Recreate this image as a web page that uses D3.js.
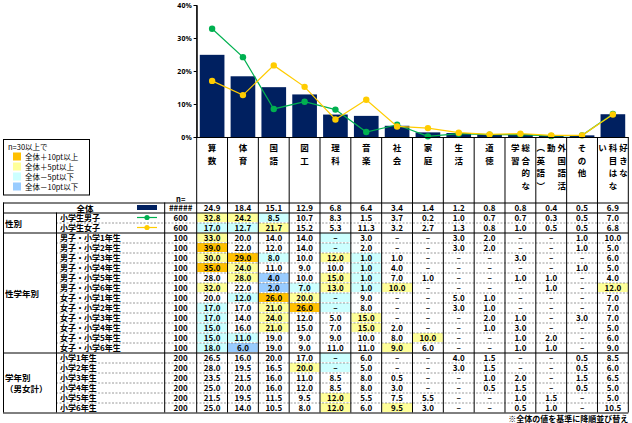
<!DOCTYPE html>
<html><head><meta charset="utf-8">
<script src="https://cdn.jsdelivr.net/npm/d3@7"></script>
<style>
body{margin:0;background:#fff}
svg{display:block}
text{font-family:"Noto Sans CJK JP","Noto Sans",sans-serif;fill:#000}
</style>
</head><body>
<svg id="c" width="632" height="423"></svg>
<script>
// ---------- data ----------
const categories = ["算数","体育","国語","図工","理科","音楽","社会","家庭","生活","道徳","総合的な学習","外国語活動（英語）","その他","好きな科目はない"];
const categoryLabelColumns = [["算数"],["体育"],["国語"],["図工"],["理科"],["音楽"],["社会"],["家庭"],["生活"],["道徳"],["総合的な","学習"],["外国語活","動","︵英語︶"],["その他"],["好きな","科目はな","い"]];
const yTicks = [0,10,20,30,40];

const totalValues = [24.9,18.4,15.1,12.9,6.8,6.4,3.4,1.4,1.2,0.8,0.8,0.4,0.5,6.9];
const boyValues   = [32.8,24.2,8.5,10.7,8.3,1.5,3.7,0.2,1.0,0.7,0.7,0.3,0.5,7.0];
const girlValues  = [17.0,12.7,21.7,15.2,5.3,11.3,3.2,2.7,1.3,0.8,1.0,0.5,0.5,6.8];

const boy1 = [33,20,14,14,null,3,null,null,3,2,null,null,1,10];
const boy2 = [39,22,12,14,null,2,null,null,3,2,null,null,1,5];
const boy3 = [30,29,8,10,12,1,1,null,null,null,3,null,null,6];
const boy4 = [35,24,11,9,10,1,4,null,null,null,null,null,1,5];
const boy5 = [28,28,4,10,15,1,7,1,null,null,1,1,null,4];
const boy6 = [32,22,2,7,13,1,10,null,null,null,null,1,null,12];
const girl1 = [20,12,26,20,null,9,null,null,5,1,null,null,null,7];
const girl2 = [17,17,21,26,null,8,null,null,3,1,null,null,null,7];
const girl3 = [17,14,24,12,5,15,null,null,null,2,1,null,3,7];
const girl4 = [15,16,21,15,7,15,2,null,null,1,3,null,null,5];
const girl5 = [15,11,19,9,9,10,8,10,null,null,1,2,null,6];
const girl6 = [18,6,19,9,11,11,9,6,null,null,1,1,null,9];
const grade1 = [26.5,16,20,17,null,6,null,null,4,1.5,null,null,0.5,8.5];
const grade2 = [28,19.5,16.5,20,null,5,null,null,3,1.5,null,null,0.5,6];
const grade3 = [23.5,21.5,16,11,8.5,8,0.5,null,null,1,2,null,1.5,6.5];
const grade4 = [25,20,16,12,8.5,8,3,null,null,0.5,1.5,null,0.5,5];
const grade5 = [21.5,19.5,11.5,9.5,12,5.5,7.5,5.5,null,null,1,1.5,null,5];
const grade6 = [25,14,10.5,8,12,6,9.5,3,null,null,0.5,1,null,10.5];

const rowLabels = ["全体","小学生男子","小学生女子",
  "男子・小学1年生","男子・小学2年生","男子・小学3年生","男子・小学4年生","男子・小学5年生","男子・小学6年生",
  "女子・小学1年生","女子・小学2年生","女子・小学3年生","女子・小学4年生","女子・小学5年生","女子・小学6年生",
  "小学1年生","小学2年生","小学3年生","小学4年生","小学5年生","小学6年生"];
const rowN = ["#####","600","600","100","100","100","100","100","100","100","100","100","100","100","100","200","200","200","200","200","200"];
const rowValues = [totalValues,boyValues,girlValues,boy1,boy2,boy3,boy4,boy5,boy6,girl1,girl2,girl3,girl4,girl5,girl6,grade1,grade2,grade3,grade4,grade5,grade6];
const groupLabels = [["性別"],["性学年別"],["学年別","（男女計）"]];
const groupRanges = [[1,3],[3,15],[15,21]];
const legendTitle = "n=30以上で";
const legendItems = ["全体＋10pt以上","全体＋5pt以上","全体－5pt以下","全体－10pt以下"];
const footnote = "※全体の値を基準に降順並び替え";

// ---------- styles ----------
const NAVY="#002060", GREEN="#00B050", YELLOW="#FFCC00";
const HL = ["#FFC000","#FFFF99","#CCFFFF","#99CCFF"];
function hl(v,base){
  const d=(v==null?0:v)-base;
  if(d>=10) return HL[0];
  if(d>=5) return HL[1];
  if(d<=-10) return HL[3];
  if(d<=-5) return HL[2];
  return null;
}

const svg=d3.select("#c");
const X0=196.7, X1=628.3, PT=5, PB=137;
const x=d3.scaleBand().domain(categories).range([X0,X1]).padding(0);
const y=d3.scaleLinear().domain([0,40]).range([PB,PT]);
const T0=202.5, RH=10;
const ry=d3.scaleBand().domain(d3.range(rowLabels.length)).range([T0,T0+RH*rowLabels.length]).padding(0);
const T1=T0+RH*rowLabels.length;
const fmt=d3.format(".1f");

// ---------- chart ----------
const bw=x.bandwidth()*0.8;
svg.append("g").selectAll("rect").data(categories).join("rect")
  .attr("x",(d)=>x(d)+(x.bandwidth()-bw)/2).attr("width",bw)
  .attr("y",(d,i)=>y(totalValues[i])).attr("height",(d,i)=>PB-y(totalValues[i]))
  .attr("fill",NAVY);

const cx=d=>x(d)+x.bandwidth()/2;
[[boyValues,GREEN],[girlValues,YELLOW]].forEach(([vals,col])=>{
  const pts=categories.map((c,i)=>[cx(c),y(vals[i])]);
  svg.append("path").attr("d",d3.line()(pts)).attr("fill","none").attr("stroke",col).attr("stroke-width",1.2);
  svg.append("g").selectAll("circle").data(pts).join("circle")
    .attr("cx",d=>d[0]).attr("cy",d=>d[1]).attr("r",3.2).attr("fill",col);
});

const ax=svg.append("g").attr("transform",`translate(${X0},0)`)
  .call(d3.axisLeft(y).tickValues(yTicks).tickFormat(d=>d+"%").tickSize(3).tickPadding(2));
ax.select(".domain").attr("stroke","#000");
ax.selectAll("text").attr("font-size",7).attr("font-weight","bold").style("font-family","Noto Sans, sans-serif");
svg.append("line").attr("x1",X0).attr("x2",X1).attr("y1",PB+0.5).attr("y2",PB+0.5).attr("stroke","#000");

// ---------- header labels (vertical) ----------
categoryLabelColumns.forEach((cols,i)=>{
  const c=cx(categories[i]);
  const n=cols.length, sp=10.5;
  cols.forEach((colText,j)=>{
    const xc=c+((n-1)/2-j)*sp;
    Array.from(colText).forEach((ch,k)=>{
      svg.append("text").attr("x",xc).attr("y",147+k*12.5)
        .attr("text-anchor","middle").attr("dominant-baseline","central")
        .attr("font-size",8.5).attr("font-weight","bold").text(ch);
    });
  });
});
svg.append("text").attr("x",180.7).attr("y",198).attr("text-anchor","middle").attr("dominant-baseline","central")
  .attr("font-size",7.5).attr("font-weight","bold").text("n=");

// ---------- legend ----------
svg.append("rect").attr("x",3.5).attr("y",139.5).attr("width",86).attr("height",55.5).attr("fill","#fff").attr("stroke","#000");
svg.append("text").attr("x",8).attr("y",146.5).attr("dominant-baseline","central").attr("font-size",7.5).text(legendTitle);
legendItems.forEach((t,i)=>{
  const yy=156.5+i*10;
  svg.append("rect").attr("x",13).attr("y",yy-4).attr("width",8).attr("height",8).attr("fill",HL[i]);
  svg.append("text").attr("x",25).attr("y",yy).attr("dominant-baseline","central").attr("font-size",7.5).text(t);
});

// ---------- table cells ----------
rowValues.forEach((vals,r)=>{
  const yy=ry(r);
  vals.forEach((v,i)=>{
    const col = r===0?null:hl(v,totalValues[i]);
    if(col) svg.append("rect").attr("x",x(categories[i])+0.5).attr("y",yy+0.5).attr("width",x.bandwidth()-1).attr("height",RH-1).attr("fill",col);
    svg.append("text").attr("x",cx(categories[i])).attr("y",yy+RH/2+0.3)
      .attr("text-anchor","middle").attr("dominant-baseline","central")
      .attr("font-size",8).attr("font-weight","bold").text(v==null?"–":fmt(v));
  });
  svg.append("text").attr("x",180.7).attr("y",yy+RH/2+0.3).attr("text-anchor","middle").attr("dominant-baseline","central")
    .attr("font-size",8).attr("font-weight","bold").text(rowN[r]);
  if(r>0){
    svg.append("text").attr("x",60).attr("y",yy+RH/2+0.3).attr("dominant-baseline","central")
      .attr("font-size",8).attr("font-weight","bold").text(rowLabels[r]);
  }
});
// 全体 row
svg.append("text").attr("x",85).attr("y",ry(0)+RH/2+0.3).attr("text-anchor","middle").attr("dominant-baseline","central")
  .attr("font-size",8.5).attr("font-weight","bold").text(rowLabels[0]);
svg.append("rect").attr("x",137).attr("y",ry(0)+2.5).attr("width",20).attr("height",5).attr("fill",NAVY);
[[1,GREEN],[2,YELLOW]].forEach(([r,col])=>{
  const yy=ry(r)+RH/2;
  svg.append("line").attr("x1",137).attr("x2",157).attr("y1",yy).attr("y2",yy).attr("stroke",col).attr("stroke-width",1.2);
  svg.append("circle").attr("cx",147).attr("cy",yy).attr("r",2.6).attr("fill",col);
});
// group labels
groupRanges.forEach(([a,b],g)=>{
  const mid=(ry(a)+ry(b-1)+RH)/2;
  const lines=groupLabels[g];
  lines.forEach((t,k)=>{
    svg.append("text").attr("x",5).attr("y",mid+(k-(lines.length-1)/2)*10.5).attr("dominant-baseline","central")
      .attr("font-size",8.5).attr("font-weight","bold").text(t);
  });
});

// ---------- grid lines ----------
const solid=new Set([0,1,3,15,21]);
for(let i=0;i<=rowLabels.length;i++){
  const yy=Math.round(T0+i*RH)+0.5-0.5;
  if(solid.has(i)){
    svg.append("line").attr("x1",3).attr("x2",X1).attr("y1",yy).attr("y2",yy).attr("stroke","#000").attr("stroke-width",1);
  } else {
    svg.append("line").attr("x1",56).attr("x2",X1).attr("y1",yy).attr("y2",yy).attr("stroke","#808080").attr("stroke-width",0.8).attr("stroke-dasharray","2,1.5");
  }
}
svg.append("line").attr("x1",3.5).attr("x2",3.5).attr("y1",T0).attr("y2",T1).attr("stroke","#000");
svg.append("line").attr("x1",56.5).attr("x2",56.5).attr("y1",ry(1)).attr("y2",T1).attr("stroke","#000");
svg.append("line").attr("x1",164.7).attr("x2",164.7).attr("y1",T0).attr("y2",T1).attr("stroke","#000");
const bounds=categories.map(c=>x(c)).concat([X1]);
bounds.forEach((bx,i)=>{
  svg.append("line").attr("x1",bx).attr("x2",bx).attr("y1",i===0?PT:PB).attr("y2",T1).attr("stroke","#000");
});

// footnote
svg.append("text").attr("x",X1).attr("y",418.5).attr("text-anchor","end").attr("dominant-baseline","central")
  .attr("font-size",8).attr("font-weight","bold").text(footnote);
</script>
</body></html>
